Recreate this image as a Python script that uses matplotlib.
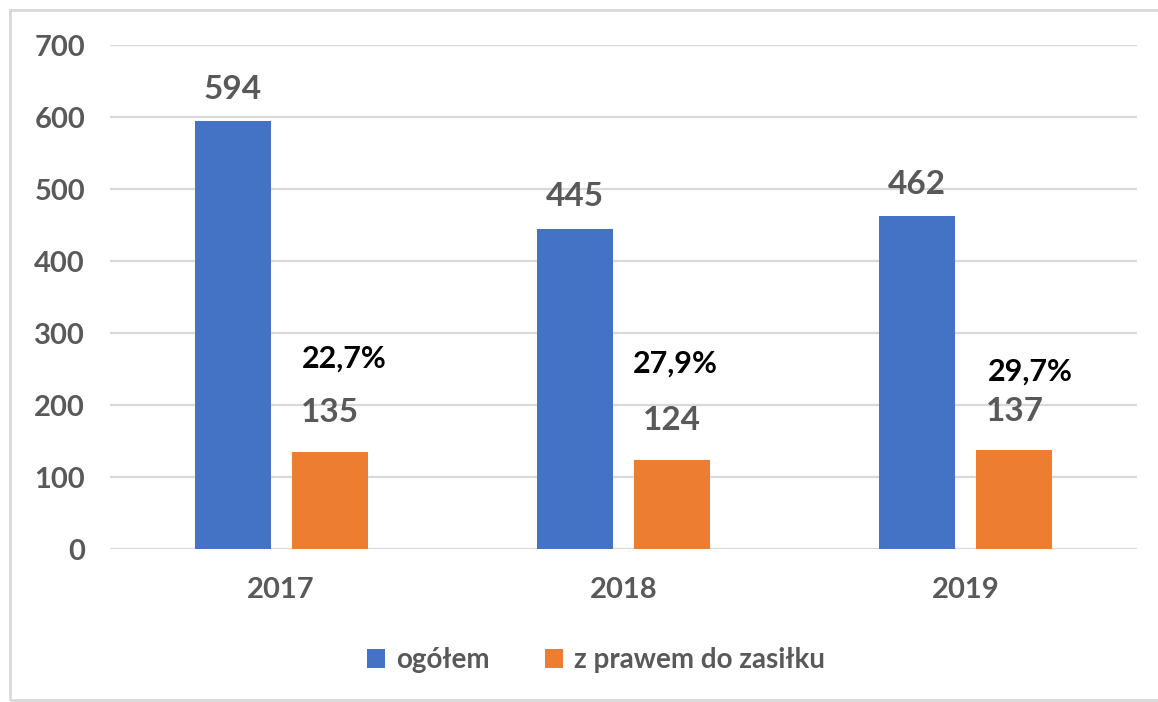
import matplotlib
matplotlib.use("Agg")
import matplotlib.pyplot as plt
from matplotlib.patches import Rectangle
import numpy as np

years = ["2017", "2018", "2019"]
total = [594, 445, 462]
with_benefit = [135, 124, 137]
shares = ["22,7%", "27,9%", "29,7%"]
share_y = [265, 258, 246]
share_dx = [0.184, 0.152, 0.187]
series_names = ["ogółem", "z prawem do zasiłku"]

blue = "#4472C4"
orange = "#ED7D31"
gray = "#595959"

plt.rcParams['font.family'] = ['Lato', 'DejaVu Sans']

fig = plt.figure(figsize=(11.58, 7.02), dpi=100)
W, H = 1158, 702
ax = fig.add_axes([110 / W, 1 - 549 / H, (1137 - 110) / W, (549 - 45) / H])

x = np.arange(len(years))
bw = 0.222
off = 0.142
b1 = ax.bar(x - off, total, bw, color=blue, label=series_names[0], zorder=3)
b2 = ax.bar(x + off, with_benefit, bw, color=orange, label=series_names[1], zorder=3)

for rect, v in zip(b1, total):
    ax.annotate(str(v), (rect.get_x() + rect.get_width() / 2, v), xytext=(0, 23),
                textcoords="offset points", ha="center", va="center",
                fontsize=24, fontweight="bold", color=gray)
for rect, v in zip(b2, with_benefit):
    ax.annotate(str(v), (rect.get_x() + rect.get_width() / 2, v), xytext=(0, 28),
                textcoords="offset points", ha="center", va="center",
                fontsize=24, fontweight="bold", color=gray)
for i, (s, yv, dx) in enumerate(zip(shares, share_y, share_dx)):
    ax.text(i + dx, yv, s, ha="center", va="center", fontsize=22,
            fontweight="bold", color="black")

ax.set_ylim(0, 700)
ax.set_xlim(-0.5, 2.5)
ax.set_yticks(range(0, 701, 100))
ax.set_xticks(x)
ax.set_xticklabels(years)
ax.tick_params(axis="both", length=0, labelsize=21, labelcolor=gray)
ax.tick_params(axis="y", pad=18)
ax.tick_params(axis="x", pad=20)
for lab in ax.get_xticklabels() + ax.get_yticklabels():
    lab.set_fontweight("bold")
for lab in ax.get_yticklabels():
    lab.set_horizontalalignment("right")
ax.grid(axis="y", color="#D9D9D9", linewidth=1.6, zorder=0)
for sp in ax.spines.values():
    sp.set_visible(False)

leg = fig.legend(handles=[b1, b2], labels=series_names, loc="center",
                 bbox_to_anchor=(596 / W, 1 - 660 / H), ncol=2, frameon=False,
                 handlelength=0.65, handleheight=0.65, handletextpad=0.4,
                 columnspacing=2.0, prop={"size": 20, "weight": "bold"})
for t in leg.get_texts():
    t.set_color(gray)

fig.patches.append(Rectangle((10 / W, 2 / H), 1.2, 1 - 12 / H, transform=fig.transFigure,
                             fill=False, edgecolor="#D9D9D9", linewidth=2))

fig.savefig("out.png", dpi=100)
